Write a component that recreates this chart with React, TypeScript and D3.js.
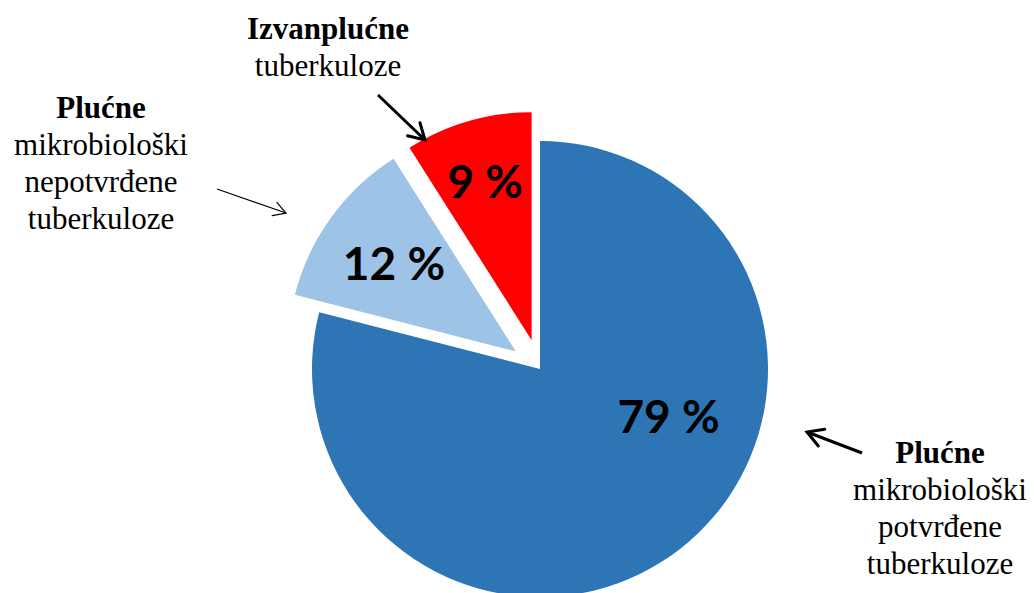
import * as d3 from "d3";

// slice shares in percent, clockwise from 12 o'clock
const categories = [
  "Plućne mikrobiološki potvrđene tuberkuloze",
  "Plućne mikrobiološki nepotvrđene tuberkuloze",
  "Izvanplućne tuberkuloze",
];
const values = [79, 12, 9];
const colors = ["#2E75B6", "#9DC3E6", "#FF0000"];
// how far each slice is pulled out of the pie
const explode = [0, 30, 30];
// label placement: angle override (deg, null = slice middle) and radius fraction
const labelAngle: (number | null)[] = [110, null, null];
const labelRadius = [0.6, 0.66, 0.73];

const W = 1034;
const H = 593;
const cx = 540;
const cy = 369;
const R = 228;

type Note = {
  bold: string;
  lines: string[];
  x: number;
  y: number;
  from: [number, number];
  to: [number, number];
  width: number;
};

const notes: Note[] = [
  {
    bold: "Izvanplućne",
    lines: ["tuberkuloze"],
    x: 328,
    y: 39,
    from: [378, 95],
    to: [425, 140],
    width: 3,
  },
  {
    bold: "Plućne",
    lines: ["mikrobiološki", "nepotvrđene", "tuberkuloze"],
    x: 101,
    y: 118,
    from: [217, 189],
    to: [286, 213],
    width: 1.2,
  },
  {
    bold: "Plućne",
    lines: ["mikrobiološki", "potvrđene", "tuberkuloze"],
    x: 940,
    y: 463,
    from: [862, 453],
    to: [807, 432],
    width: 3,
  },
];

function arrowHead(from: [number, number], to: [number, number], len: number) {
  const a = Math.atan2(to[1] - from[1], to[0] - from[0]);
  const spread = Math.PI / 6;
  const p1 = [to[0] - len * Math.cos(a - spread), to[1] - len * Math.sin(a - spread)];
  const p2 = [to[0] - len * Math.cos(a + spread), to[1] - len * Math.sin(a + spread)];
  return `M${p1[0]},${p1[1]}L${to[0]},${to[1]}L${p2[0]},${p2[1]}`;
}

export default function App() {
  const pie = d3
    .pie<number>()
    .sort(null)
    .value((d) => d);
  const arcs = pie(values);
  const arc = d3.arc<d3.PieArcDatum<number>>().innerRadius(0).outerRadius(R);

  return (
    <svg
      width={W}
      height={H}
      style={{ position: "absolute", left: 0, top: 0, background: "#fff" }}
    >
      <g transform={`translate(${cx},${cy})`}>
        {arcs.map((d, i) => {
          const mid = (d.startAngle + d.endAngle) / 2;
          const dx = Math.sin(mid) * explode[i];
          const dy = -Math.cos(mid) * explode[i];
          const la = labelAngle[i] != null ? ((labelAngle[i] as number) * Math.PI) / 180 : mid;
          const lr = R * labelRadius[i];
          return (
            <g key={categories[i]} transform={`translate(${dx},${dy})`}>
              <path d={arc(d) || ""} fill={colors[i]} />
              <text
                x={Math.sin(la) * lr}
                y={-Math.cos(la) * lr}
                textAnchor="middle"
                dominantBaseline="central"
                fontFamily="Lato, 'Open Sans', sans-serif"
                fontWeight="bold"
                fontSize={46}
                fill="#000"
              >
                {`${values[i]} %`}
              </text>
            </g>
          );
        })}
      </g>
      {notes.map((n, i) => (
        <g key={i}>
          <text
            x={n.x}
            y={n.y}
            textAnchor="middle"
            fontFamily="'Liberation Serif', 'Times New Roman', serif"
            fontSize={31}
            fill="#000"
          >
            <tspan x={n.x} fontWeight="bold">
              {n.bold}
            </tspan>
            {n.lines.map((l, j) => (
              <tspan key={j} x={n.x} dy={37}>
                {l}
              </tspan>
            ))}
          </text>
          <line
            x1={n.from[0]}
            y1={n.from[1]}
            x2={n.to[0]}
            y2={n.to[1]}
            stroke="#000"
            strokeWidth={n.width}
          />
          <path
            d={arrowHead(n.from, n.to, n.width > 2 ? 18 : 14)}
            fill="none"
            stroke="#000"
            strokeWidth={n.width}
            strokeLinecap="round"
            strokeLinejoin="miter"
          />
        </g>
      ))}
    </svg>
  );
}
